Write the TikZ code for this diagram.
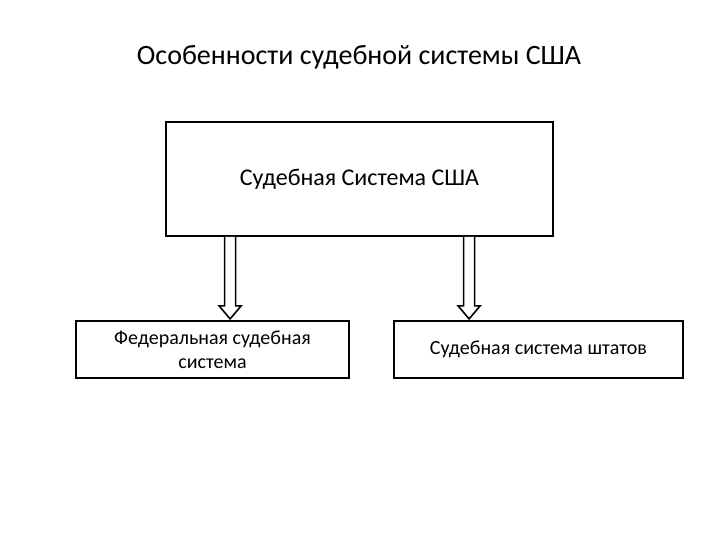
\documentclass[tikz,border=0pt]{standalone}
\usepackage{fontspec}
\setmainfont{Carlito}
\usetikzlibrary{positioning, calc}

% hollow block arrow pointing down, from #1 to the tip #2
\newcommand{\blockarrow}[2]{%
  \draw[hollowarrow] ($(#1)+(-5.5,0)$) -- ($(#2)+(-5.5,13)$)
    -- ($(#2)+(-11,13)$) -- (#2) -- ($(#2)+(11,13)$)
    -- ($(#2)+(5.5,13)$) -- ($(#1)+(5.5,0)$);}

\begin{document}
\begin{tikzpicture}[
    x=1pt, y=1pt,
    system/.style={
      draw, line width=1.8pt, minimum height=57pt,
      align=center, font=\fontsize{20}{24}\selectfont, inner sep=2pt
    },
    topsystem/.style={
      draw, line width=1.8pt, minimum width=387pt,
      minimum height=114pt, font=\fontsize{24}{28}\selectfont
    },
    hollowarrow/.style={line width=1.6pt, fill=white, line join=miter},
]
    \useasboundingbox (0,0) rectangle (720,540);

    % Title
    \node[font=\fontsize{28}{32}\selectfont] (title) at (359,483)
      {Особенности судебной системы США};

    % Main box
    \node[topsystem] (usa) at (359.5,361) {Судебная Система США};

    % Lower boxes
    \node[system, minimum width=273pt] (federal) at (212.5,190.5)
      {Федеральная судебная\\система};
    \node[system, minimum width=289pt] (states) at (538.5,190.5)
      {Судебная система штатов};

    % Arrows
    \coordinate (fedtip) at ($(usa.south west)+(65,-82)$);
    \coordinate (statetip) at ($(usa.south west)+(304,-82)$);
    \blockarrow{usa.south west -| fedtip}{fedtip}
    \blockarrow{usa.south west -| statetip}{statetip}
\end{tikzpicture}
\end{document}
